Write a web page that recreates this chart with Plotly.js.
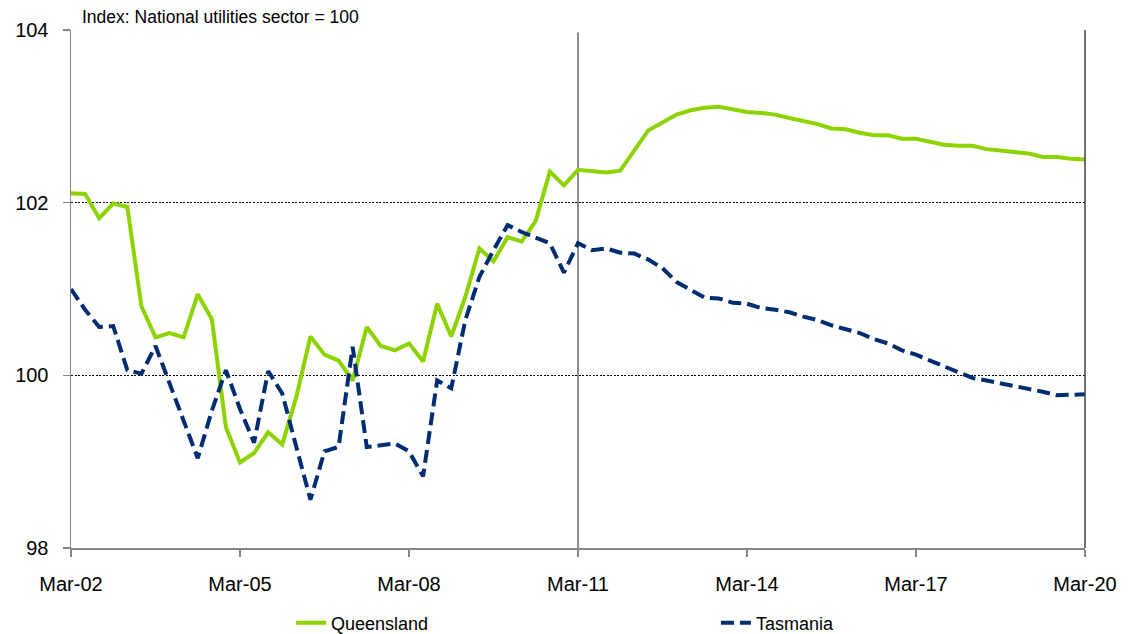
<!DOCTYPE html>
<html>
<head>
<meta charset="utf-8">
<script src="https://cdn.plot.ly/plotly-3.0.1.min.js"></script>
<style>html,body{margin:0;padding:0;background:#fff;}#chart{width:1128px;height:634px;}</style>
</head>
<body>
<div id="chart"></div>
<script>
var quarters = [
"Mar-02","Jun-02","Sep-02","Dec-02","Mar-03","Jun-03","Sep-03","Dec-03",
"Mar-04","Jun-04","Sep-04","Dec-04","Mar-05","Jun-05","Sep-05","Dec-05",
"Mar-06","Jun-06","Sep-06","Dec-06","Mar-07","Jun-07","Sep-07","Dec-07",
"Mar-08","Jun-08","Sep-08","Dec-08","Mar-09","Jun-09","Sep-09","Dec-09",
"Mar-10","Jun-10","Sep-10","Dec-10","Mar-11","Jun-11","Sep-11","Dec-11",
"Mar-12","Jun-12","Sep-12","Dec-12","Mar-13","Jun-13","Sep-13","Dec-13",
"Mar-14","Jun-14","Sep-14","Dec-14","Mar-15","Jun-15","Sep-15","Dec-15",
"Mar-16","Jun-16","Sep-16","Dec-16","Mar-17","Jun-17","Sep-17","Dec-17",
"Mar-18","Jun-18","Sep-18","Dec-18","Mar-19","Jun-19","Sep-19","Dec-19",
"Mar-20"];

var queensland = [
102.11,102.10,101.82,101.99,101.95,100.80,100.44,100.49,
100.44,100.94,100.65,99.40,98.99,99.10,99.34,99.20,
99.75,100.45,100.24,100.17,99.94,100.56,100.34,100.29,
100.37,100.16,100.83,100.45,100.91,101.47,101.32,101.60,
101.55,101.79,102.36,102.20,102.38,102.37,102.35,102.37,
102.61,102.84,102.93,103.02,103.07,103.10,103.11,103.08,
103.05,103.04,103.02,102.98,102.95,102.91,102.86,102.85,
102.81,102.78,102.78,102.74,102.74,102.71,102.67,102.66,
102.66,102.62,102.60,102.58,102.57,102.53,102.53,102.51,
102.50];

var tasmania = [
101.00,100.76,100.56,100.57,100.06,100.02,100.34,99.90,
99.47,99.04,99.59,100.06,99.61,99.22,100.05,99.79,
99.17,98.56,99.12,99.17,100.33,99.17,99.19,99.21,
99.12,98.83,99.94,99.85,100.64,101.14,101.45,101.74,
101.66,101.60,101.53,101.19,101.53,101.45,101.47,101.42,
101.41,101.34,101.24,101.08,100.99,100.90,100.89,100.84,
100.83,100.78,100.76,100.73,100.68,100.64,100.58,100.54,
100.49,100.42,100.37,100.29,100.24,100.17,100.10,100.03,
99.97,99.94,99.91,99.88,99.85,99.81,99.77,99.78,
99.78];

var xTicks = ["Mar-02","Mar-05","Mar-08","Mar-11","Mar-14","Mar-17","Mar-20"];
var yTicks = [98,100,102,104];
var seriesNames = ["Queensland","Tasmania"];
var titleText = "Index: National utilities sector = 100";

var font = "Liberation Sans, Arial, sans-serif";

var traces = [
  {x: quarters, y: queensland, name: seriesNames[0], type: "scatter", mode: "lines",
   legend: "legend", line: {color: "#8DD300", width: 4}},
  {x: quarters, y: tasmania, name: seriesNames[1], type: "scatter", mode: "lines",
   legend: "legend2", line: {color: "#002D72", width: 4, dash: "13px,6px"}}
];

var legendBase = {orientation: "h", y: -0.109, yanchor: "top", xanchor: "left",
  font: {family: font, size: 18, color: "#000"}, bgcolor: "rgba(0,0,0,0)"};

var layout = {
  width: 1128, height: 634,
  margin: {l: 71, r: 43, t: 30, b: 86, autoexpand: false},
  paper_bgcolor: "#fff", plot_bgcolor: "#fff",
  font: {family: font, color: "#000", size: 20},
  showlegend: true,
  legend: Object.assign({}, legendBase, {x: 0.217}),
  legend2: Object.assign({}, legendBase, {x: 0.636}),
  xaxis: {type: "category", range: [0, quarters.length - 1],
          tickmode: "array", tickvals: xTicks, ticktext: xTicks,
          showgrid: false, zeroline: false,
          showline: true, linecolor: "#868686", linewidth: 1.5,
          ticks: "outside", ticklen: 7, tickcolor: "#868686", tickwidth: 1.5,
          ticklabelstandoff: 10,
          tickfont: {family: font, size: 20, color: "#000"}},
  yaxis: {range: [98, 104], tickmode: "array", tickvals: yTicks, ticktext: yTicks.map(String),
          showgrid: true, gridcolor: "#000", gridwidth: 1, griddash: "2px,1.5px",
          zeroline: false,
          showline: true, linecolor: "#868686", linewidth: 1.5,
          ticks: "outside", ticklen: 7, tickcolor: "#868686", tickwidth: 1.5,
          ticklabelstandoff: 10,
          tickfont: {family: font, size: 20, color: "#000"}},
  shapes: [
    {type: "line", xref: "x", yref: "paper", x0: "Mar-11", x1: "Mar-11", y0: 0, y1: 0.995,
     line: {color: "#404040", width: 1.2}, layer: "below"},
    {type: "line", xref: "paper", yref: "paper", x0: 1, x1: 1, y0: 0, y1: 1,
     line: {color: "#404040", width: 1.5}}
  ],
  annotations: [
    {text: titleText, xref: "paper", yref: "paper", x: 0.009, y: 1, xanchor: "left", yanchor: "bottom",
     yshift: 1, showarrow: false, font: {family: font, size: 17.5, color: "#000"}}
  ]
};

Plotly.newPlot("chart", traces, layout, {staticPlot: true, displayModeBar: false});
</script>
</body>
</html>
